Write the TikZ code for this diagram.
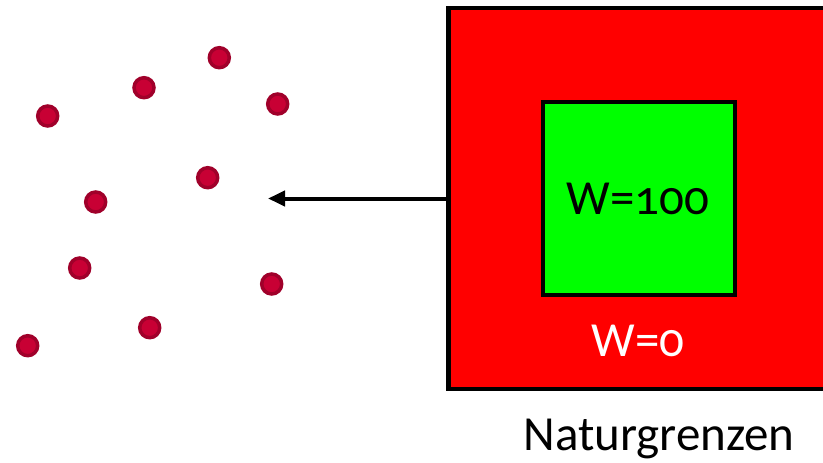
\documentclass[tikz,border=0pt]{standalone}
\usepackage{fontspec}
\setmainfont{Carlito}[Numbers=OldStyle]
\usetikzlibrary{arrows.meta}
\definecolor{dotfill}{RGB}{200,0,52}
\definecolor{dotline}{RGB}{160,0,42}
\tikzset{
  dot/.style={circle,fill=dotfill,draw=dotline,line width=3.5pt,minimum size=20pt,inner sep=0pt},
  outerbox/.style={draw=black,fill=red,line width=4.5pt,inner sep=0pt},
  innerbox/.style={draw=black,fill=green,line width=4.5pt,inner sep=0pt},
  bigtext/.style={font=\fontsize{49}{55}\selectfont,inner sep=0pt},
  conn/.style={line width=4pt,-{Triangle[length=17pt,width=15pt]}}
}
\begin{document}
\begin{tikzpicture}[x=1pt,y=-1pt]
\useasboundingbox (0,0) rectangle (823,463);
\clip (0,0) rectangle (823,463);
\node[outerbox,minimum width=391.5pt,minimum height=381pt] (region) at (644.25,198.5) {};
\node[innerbox,minimum width=192pt,minimum height=193pt] (core) at (639,198.5) {};
\node[bigtext] (w100) at (638,199) {W=100};
\node[bigtext,text=white] (w0) at (638,341) {W=0};
\node[bigtext,anchor=base] (label) at (659,450) {Naturgrenzen};
\coordinate (tip) at (268,198.5);
\draw[conn] (region.west) -- (tip);
\node[dot] (d1) at (219.3,57.7) {};
\node[dot] (d2) at (144,87.7) {};
\node[dot] (d3) at (47.7,116) {};
\node[dot] (d4) at (277.7,104) {};
\node[dot] (d5) at (207.7,177.7) {};
\node[dot] (d6) at (95.7,202) {};
\node[dot] (d7) at (79.7,268) {};
\node[dot] (d8) at (271.7,284) {};
\node[dot] (d9) at (149.7,327.7) {};
\node[dot] (d10) at (27.7,345.7) {};
\end{tikzpicture}
\end{document}
